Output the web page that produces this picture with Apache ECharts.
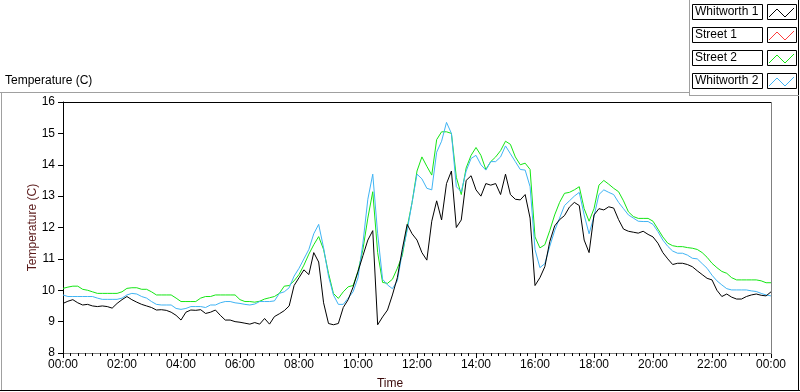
<!DOCTYPE html>
<html>
<head>
<meta charset="utf-8">
<script src="https://cdn.jsdelivr.net/npm/echarts@6/dist/echarts.min.js"></script>
<style>
html, body { margin: 0; padding: 0; background: #fff; }
#chart { width: 800px; height: 392px; }
</style>
</head>
<body>
<div id="chart"></div>
<script>
// one sample every 10 minutes, 00:00 -> 24:00
const stepMinutes = 10

const seriesNames = ['Whitworth 1', 'Street 1', 'Street 2', 'Whitworth 2']
const seriesColors = ['#000000', '#ff3c3c', '#14e614', '#40b4f4']

const whitworth1 = [
  9.58, 9.65, 9.7, 9.6, 9.53, 9.55,
  9.5, 9.48, 9.5, 9.48, 9.43, 9.58,
  9.7, 9.8, 9.7, 9.62, 9.55, 9.5,
  9.45, 9.37, 9.38, 9.36, 9.3, 9.2,
  9.05, 9.3, 9.37, 9.36, 9.38, 9.26,
  9.3, 9.37, 9.2, 9.05, 9.05, 9.0,
  8.98, 8.95, 8.92, 8.97, 8.92, 9.1,
  8.92, 9.16, 9.25, 9.35, 9.5, 10.15,
  10.4, 10.65, 10.5, 11.2, 10.9, 9.6,
  8.94, 8.9, 8.94, 9.45, 9.7, 10.1,
  10.6, 11.1, 11.6, 11.9, 8.9, 9.15,
  9.37, 9.85, 10.4, 11.3, 12.1, 11.8,
  11.6, 11.2, 10.96, 12.2, 12.85, 12.24,
  13.4, 13.8, 12.0, 12.24, 13.5, 13.65,
  13.2, 13.0, 13.4, 13.35, 13.4, 13.05,
  13.7, 13.05, 12.9, 12.88, 13.05, 12.3,
  10.15, 10.4, 10.75, 11.55, 12.05, 12.25,
  12.38, 12.65, 12.8, 12.7, 11.6, 11.2,
  12.4, 12.6, 12.56, 12.66, 12.62, 12.25,
  11.95, 11.88, 11.85, 11.82, 11.88, 11.78,
  11.7, 11.5, 11.2, 11.0, 10.82, 10.86,
  10.86, 10.82, 10.75, 10.62, 10.5, 10.38,
  10.33, 10.0, 9.8, 9.88, 9.78, 9.72,
  9.72, 9.8, 9.85, 9.88, 9.84, 9.82,
  9.95
]

const street1 = []

const street2 = [
  10.06, 10.1, 10.13, 10.13, 10.03, 10.0,
  9.95, 9.9, 9.9, 9.9, 9.9, 9.9,
  9.95, 10.06, 10.08, 10.08, 10.03, 10.03,
  9.95, 9.85, 9.85, 9.85, 9.85, 9.75,
  9.64, 9.64, 9.64, 9.64, 9.75, 9.8,
  9.8, 9.85, 9.85, 9.85, 9.85, 9.85,
  9.7, 9.64, 9.64, 9.62, 9.65, 9.72,
  9.76, 9.8, 9.9, 10.13, 10.15, 10.3,
  10.5, 10.8, 11.15, 11.45, 11.71, 11.3,
  10.54, 9.9, 9.74, 9.95, 10.11, 10.15,
  10.6, 11.3, 12.3, 13.14, 11.2, 10.25,
  10.22, 10.35, 10.7, 11.1, 12.0, 12.8,
  13.8, 14.25, 13.95, 13.67, 14.8, 15.05,
  15.05, 15.0, 13.6, 13.05, 13.9, 14.3,
  14.55, 14.3, 13.85, 14.1, 14.25, 14.45,
  14.75, 14.65, 14.25, 14.0, 14.05, 13.85,
  11.7, 11.35, 11.45, 11.9, 12.4, 12.8,
  13.09, 13.12, 13.2, 13.3, 12.6, 12.2,
  12.6, 13.35, 13.5, 13.38, 13.25, 13.14,
  12.85, 12.5, 12.35, 12.29, 12.29, 12.29,
  12.2, 11.95, 11.7, 11.5, 11.42, 11.39,
  11.39, 11.36, 11.34, 11.3, 11.2, 11.05,
  10.86, 10.72, 10.6, 10.54, 10.4, 10.33,
  10.33, 10.33, 10.33, 10.33, 10.3, 10.24,
  10.24
]

const whitworth2 = [
  9.85, 9.8, 9.8, 9.8, 9.8, 9.8,
  9.8, 9.75, 9.71, 9.71, 9.71, 9.71,
  9.75, 9.85, 9.9, 9.88, 9.8, 9.75,
  9.64, 9.55, 9.53, 9.53, 9.53, 9.42,
  9.39, 9.42, 9.48, 9.48, 9.48, 9.45,
  9.53, 9.53, 9.6, 9.64, 9.64, 9.6,
  9.58, 9.55, 9.53, 9.56, 9.64, 9.64,
  9.64, 9.66, 9.9, 9.95, 10.08, 10.45,
  10.7, 11.0, 11.3, 11.8, 12.1, 11.35,
  10.45, 9.85, 9.55, 9.55, 9.75, 9.95,
  10.4, 11.5, 12.9, 13.7, 11.8, 10.35,
  10.17, 10.05, 10.3, 11.2, 11.9, 12.8,
  13.7, 13.55, 13.25, 13.2, 14.4, 14.75,
  15.35, 15.0, 13.3, 13.14, 13.8, 14.2,
  14.3, 14.0, 13.83, 14.1, 14.1, 14.25,
  14.6, 14.35, 14.1, 13.85, 13.83, 13.3,
  11.3, 10.72, 10.85, 11.4, 11.9, 12.3,
  12.7, 12.85, 13.0, 13.12, 12.4, 11.8,
  12.35, 13.05, 13.2, 13.12, 13.05, 12.8,
  12.6, 12.4, 12.3, 12.2, 12.19, 12.19,
  12.1, 11.87, 11.6, 11.4, 11.25, 11.18,
  11.18, 11.12, 11.02, 11.0, 10.85, 10.7,
  10.48, 10.3, 10.17, 10.05, 10.01, 10.01,
  10.01, 10.01, 9.98, 9.96, 9.9, 9.85,
  9.82
]

const seriesData = [whitworth1, street1, street2, whitworth2]

const font = '"Liberation Sans", Arial, sans-serif'

function toPairs(arr) {
  return arr.map((v, i) => [i * stepMinutes / 60, v])
}

function hhmm(h) {
  const hh = h % 24
  return (hh < 10 ? '0' : '') + hh + ':00'
}

const chart = echarts.init(document.getElementById('chart'))

// panel frame, plot frame (right edge) and the plot legend (LabVIEW style)
const graphics = [
  { type: 'rect', z: 100, shape: { x: 0, y: 92, width: 690, height: 1 }, style: { fill: '#a0a0a0' } },
  { type: 'rect', z: 100, shape: { x: 1, y: 92, width: 1, height: 299 }, style: { fill: '#a0a0a0' } },
  { type: 'rect', z: 100, shape: { x: 0, y: 390, width: 800, height: 1 }, style: { fill: '#000' } },
  { type: 'rect', z: 100, shape: { x: 798, y: 0, width: 1, height: 391 }, style: { fill: '#000' } },
  { type: 'rect', z: 100, shape: { x: 689, y: 0, width: 1, height: 96 }, style: { fill: '#a0a0a0' } },
  { type: 'rect', z: 100, shape: { x: 689, y: 95, width: 110, height: 1 }, style: { fill: '#a0a0a0' } },
  { type: 'rect', z: 100, shape: { x: 771, y: 102, width: 1, height: 252 }, style: { fill: '#808080' } },
  { type: 'text', x: 5, y: 75, style: { text: 'Temperature (C)', font: '12px ' + font, fill: '#000', verticalAlign: 'top' } },
  { type: 'text', x: 390, y: 378, style: { text: 'Time', font: '12px ' + font, fill: '#3a0a0a', align: 'center', verticalAlign: 'top' } }
]

seriesNames.forEach((name, i) => {
  const top = 4 + i * 23
  graphics.push({ type: 'rect', shape: { x: 692.5, y: top + 0.5, width: 70, height: 15 }, style: { fill: '#fff', stroke: '#000', lineWidth: 1 } })
  graphics.push({ type: 'text', x: 695, y: top + 2, style: { text: name, font: '12px ' + font, fill: '#000', verticalAlign: 'top' } })
  graphics.push({ type: 'rect', shape: { x: 767.5, y: top + 0.5, width: 29, height: 15 }, style: { fill: '#fff', stroke: '#000', lineWidth: 1 } })
  graphics.push({
    type: 'polyline',
    shape: { points: [[769, top + 13], [777, top + 5], [785, top + 13], [794, top + 4]] },
    style: { stroke: seriesColors[i], fill: null, lineWidth: 1 }
  })
})

const option = {
  animation: false,
  backgroundColor: '#fff',
  textStyle: { fontFamily: font },
  grid: { left: 63, top: 102, right: 29, bottom: 39 },
  xAxis: [{
    type: 'value',
    min: 0,
    max: 24,
    interval: 2,
    axisLine: { show: true, onZero: false, lineStyle: { color: '#808080' } },
    axisTick: { show: true, length: 5, lineStyle: { color: '#000' } },
    minorTick: { show: true, splitNumber: 8, length: 3, lineStyle: { color: '#000' } },
    axisLabel: { color: '#000', fontSize: 12, margin: 6, formatter: hhmm },
    splitLine: { show: false }
  }, {
    type: 'value',
    position: 'top',
    min: 0,
    max: 24,
    axisLine: { show: true, onZero: false, lineStyle: { color: '#000' } },
    axisTick: { show: false },
    axisLabel: { show: false },
    splitLine: { show: false }
  }],
  yAxis: [{
    type: 'value',
    min: 8,
    max: 16,
    interval: 1,
    name: 'Temperature (C)',
    nameLocation: 'middle',
    nameGap: 24,
    nameMoveOverlap: false,
    nameTextStyle: { color: '#5a1a1a', fontSize: 12 },
    axisLine: { show: true, onZero: false, lineStyle: { color: '#000' } },
    axisTick: { show: true, length: 5, lineStyle: { color: '#000' } },
    axisLabel: { color: '#000', fontSize: 12, margin: 8 },
    splitLine: { show: false }
  }],
  series: seriesNames.map((name, i) => ({
    name: name,
    type: 'line',
    data: toPairs(seriesData[i]),
    showSymbol: false,
    symbol: 'none',
    z: i === 0 ? 5 : 3,
    lineStyle: { color: seriesColors[i], width: 1 },
    itemStyle: { color: seriesColors[i] }
  })),
  graphic: graphics
}

chart.setOption(option)
</script>
</body>
</html>
